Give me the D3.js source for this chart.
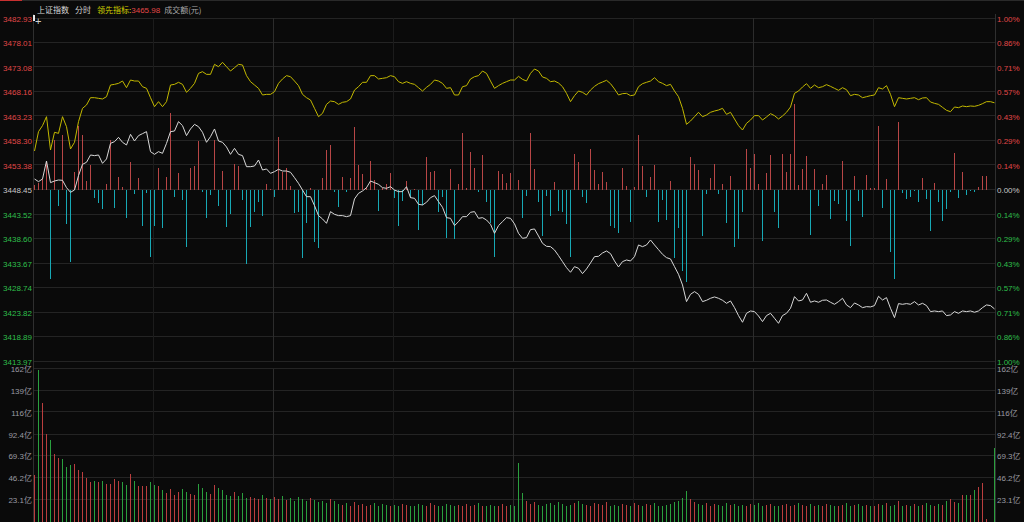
<!DOCTYPE html>
<html><head><meta charset="utf-8">
<script src="https://cdn.jsdelivr.net/npm/d3@7"></script>
<style>html,body{margin:0;padding:0;background:#0a0a0a;overflow:hidden}svg{display:block}</style>
</head><body><svg id="c" width="1024" height="522"></svg>
<script>
// ---------------- data ----------------
const preClose = 3448.45;
const priceTicks = [3482.93,3478.01,3473.08,3468.16,3463.23,3458.30,3453.38,3448.45,3443.52,3438.60,3433.67,3428.74,3423.82,3418.89,3413.97];
const volTicks = [23.1,46.2,69.3,92.4,116,139,162];
const leadLast = "3465.98";

// index price (white line), one value per minute, 09:30 .. 15:00
const price = [
3450.67,3450.13,3450.67,3454.28,3449.93,3450.26,3450.46,3450.40,3448.92,3447.99,
3448.45,3451.34,3453.61,3454.02,3455.49,3455.36,3455.49,3453.81,3454.69,3457.83,
3458.17,3459.04,3458.04,3457.50,3459.64,3458.30,3459.38,3459.78,3460.18,3456.16,
3455.62,3456.16,3455.82,3457.83,3460.18,3460.31,3462.19,3461.39,3459.38,3460.72,
3461.65,3461.18,3460.05,3458.04,3459.17,3460.72,3458.30,3458.04,3457.10,3455.62,
3456.83,3455.62,3455.36,3453.14,3453.14,3453.28,3454.48,3452.47,3452.68,3451.80,
3452.14,3452.61,3452.27,3452.27,3452.01,3450.93,3449.79,3448.45,3447.11,3447.11,
3445.31,3443.30,3442.63,3441.75,3444.10,3443.56,3443.30,3443.30,3443.09,3443.30,
3446.65,3447.78,3448.25,3448.92,3450.26,3449.93,3449.59,3448.92,3448.79,3449.12,
3448.45,3448.12,3448.12,3449.12,3446.91,3446.78,3445.57,3445.44,3445.98,3446.91,
3447.32,3446.11,3444.97,3442.89,3442.76,3441.29,3442.09,3443.09,3443.09,3443.97,
3444.10,3442.76,3442.89,3442.42,3441.55,3439.74,3441.29,3442.09,3442.89,3442.76,
3441.65,3439.74,3438.74,3438.87,3440.48,3440.62,3439.21,3437.73,3437.13,3437.06,
3436.39,3435.26,3434.05,3432.84,3431.91,3433.04,3432.71,3431.64,3432.58,3433.78,
3435.05,3435.12,3435.79,3436.19,3435.66,3434.18,3432.98,3434.05,3434.38,3434.18,
3435.05,3437.40,3437.06,3437.40,3438.40,3437.40,3436.46,3435.52,3434.85,3434.59,
3433.04,3431.50,3429.36,3426.01,3427.48,3428.02,3427.48,3426.01,3426.28,3426.68,
3426.95,3426.68,3426.28,3425.67,3426.14,3424.80,3423.20,3421.86,3423.66,3424.13,
3424.00,3423.13,3421.99,3423.20,3423.66,3422.66,3421.65,3423.20,3423.66,3424.67,
3427.01,3426.14,3426.34,3427.68,3425.88,3426.14,3425.88,3426.28,3426.34,3425.88,
3425.47,3426.01,3426.68,3425.34,3424.80,3425.74,3425.34,3424.80,3425.00,3424.94,
3425.21,3427.08,3426.34,3426.81,3424.67,3422.79,3425.61,3425.47,3425.61,3425.47,
3426.01,3425.34,3425.67,3425.21,3424.00,3424.13,3424.00,3424.13,3423.20,3423.33,
3424.00,3423.66,3424.13,3424.00,3424.13,3423.87,3424.13,3424.80,3425.34,3425.21,
3424.54];

// leading indicator (yellow line)
const lead = [
3456.29,3460.18,3461.39,3463.19,3456.49,3460.05,3459.84,3463.19,3461.18,3456.70,
3458.04,3462.19,3464.87,3465.54,3467.01,3467.01,3466.88,3466.75,3467.21,3469.56,
3469.69,3469.89,3470.36,3469.02,3470.56,3470.36,3470.36,3469.22,3468.89,3467.01,
3465.20,3466.21,3465.20,3466.21,3469.56,3469.69,3470.10,3469.69,3468.09,3468.89,
3469.89,3471.90,3472.24,3471.70,3471.70,3473.71,3473.24,3474.12,3473.24,3472.37,
3473.04,3473.71,3473.58,3471.44,3470.23,3469.56,3468.89,3467.55,3467.68,3467.68,
3468.22,3469.89,3470.77,3471.44,3471.23,3470.36,3469.43,3467.68,3467.01,3466.54,
3464.87,3463.19,3463.86,3465.67,3466.34,3466.21,3465.67,3466.08,3466.21,3466.75,
3468.55,3469.22,3470.10,3470.10,3471.44,3471.44,3470.77,3470.90,3471.03,3471.44,
3471.23,3470.23,3469.89,3470.23,3469.89,3469.69,3469.02,3468.35,3469.09,3469.69,
3470.56,3470.36,3469.89,3468.89,3469.02,3467.55,3467.55,3469.22,3469.43,3470.77,
3471.23,3471.44,3472.37,3471.90,3470.36,3468.89,3469.43,3469.89,3470.23,3470.56,
3470.56,3471.30,3470.70,3470.36,3471.90,3472.78,3472.37,3471.17,3470.90,3470.23,
3470.36,3469.96,3469.22,3467.88,3466.21,3467.42,3468.35,3468.09,3467.55,3468.55,
3469.29,3469.83,3470.16,3470.50,3469.83,3468.76,3467.55,3467.82,3467.88,3467.42,
3467.55,3469.22,3469.83,3470.10,3470.36,3471.03,3470.23,3469.89,3469.43,3469.69,
3468.35,3467.21,3464.87,3461.65,3462.32,3463.19,3464.07,3463.19,3463.53,3464.07,
3464.33,3464.53,3464.87,3463.66,3464.07,3462.73,3461.39,3460.51,3461.85,3462.52,
3463.40,3463.40,3462.52,3463.13,3463.80,3463.40,3462.73,3463.33,3464.07,3465.14,
3467.88,3468.35,3469.16,3469.83,3468.89,3469.56,3469.02,3469.22,3469.63,3469.29,
3468.89,3468.49,3469.02,3468.62,3467.42,3467.68,3467.55,3467.01,3467.21,3467.42,
3467.55,3469.02,3468.76,3469.43,3467.68,3465.20,3467.01,3466.88,3466.75,3466.88,
3467.01,3466.61,3466.95,3467.01,3466.14,3465.87,3465.67,3465.07,3464.47,3464.20,
3465.14,3465.00,3465.34,3465.20,3465.34,3465.27,3465.47,3465.81,3466.21,3466.21,
3465.98];

// buy/sell force bars (red up / cyan down), arbitrary units
const force = [
5,7,11,28,-89,50,-16,55,-34,-72,
18,64,55,9,25,-8,-13,-19,6,50,
-18,13,3,-28,28,-4,12,-36,-3,-67,
-36,22,-38,13,77,-7,17,-10,-57,22,
24,49,-2,-28,-5,50,-16,19,-37,-24,
26,24,-10,-74,-37,-22,-12,-26,6,1,
-7,53,18,22,4,-23,-22,-68,-33,2,
-52,-58,12,40,45,-2,-17,13,-2,12,
63,25,16,3,29,10,-21,2,6,17,
-8,-36,-11,9,-8,1,-40,-15,33,18,
19,-22,-7,-48,21,-49,6,57,2,38,
22,-2,35,-12,-33,-67,19,16,7,17,
0,10,-28,-6,57,21,-12,-46,-6,-26,
8,-21,-22,-34,-67,36,28,-7,-13,41,
20,6,18,8,-36,-38,-43,22,4,-32,
3,55,24,-7,13,25,-32,-10,-30,9,
-68,-38,-81,-92,33,26,20,-46,-4,12,
26,-4,6,-33,14,-57,-49,-22,41,22,
36,6,-51,17,35,-22,-38,36,18,36,
86,5,21,34,-45,21,-16,6,15,-29,
-11,-14,29,-31,-56,14,-11,-27,15,2,
2,64,-18,11,-62,-89,68,-3,-9,-7,
-1,-12,12,-9,-41,7,-12,-31,-19,-2,
37,-8,18,-5,-1,-2,3,14,14,0,
0];

// turnover per minute, 亿元
const volume = [
49,161,126,93,87,72,68,66,58.5,59.6,
60.7,54.3,52.2,46.5,41.8,43.6,41.8,42.6,40.1,40.1,
45,43.6,42.3,38.3,50.8,43.6,37.3,38,37.3,41.8,
38.3,38,33.7,30.1,34.8,27.7,31.2,35.1,31.2,29.5,
27.7,39.4,35.4,31.9,29.5,38.6,35.9,33,28,26.6,
31.6,27.4,30.1,25.5,25.9,24.8,24.2,28.7,24.5,23.7,
26,24,27,23,25,22,26,24,22,25,
23,21,22,20,24,22,19,18,20,17,
21,18,19,17,18,20,17,19,18,16,
18,17,19,18,16,17,19,18,17,20,
18,16,17,19,18,17,18,16,19,17,
18,20,17,16,18,17,16,19,17,18,
16,62,30,22,19,21,18,17,19,20,
18,21,19,17,18,20,22,19,18,17,
20,19,18,21,17,18,16,19,18,17,
20,18,17,19,18,20,17,16,18,19,
21,22,25,32,24,21,19,18,20,17,
19,18,17,20,18,19,17,18,16,19,
18,20,17,18,19,17,16,18,19,17,
18,20,18,17,19,16,18,17,19,18,
16,17,18,20,17,18,19,17,18,16,
17,19,18,20,17,18,22,17,18,16,
19,17,18,20,18,17,19,18,22,24,
21,20,28.7,27.7,28.7,33,37,40.8,3,0,
78.4];

// minute categories
const times = [];
[[9,30,120],[13,0,120]].forEach(([h,m,n],s)=>{
  for(let k=(s?1:0);k<=n;k++){const t=h*60+m+k;times.push(String(Math.floor(t/60)).padStart(2,'0')+':'+String(t%60).padStart(2,'0'));}
});

// ---------------- drawing ----------------
const W=1024,H=522;
const svg=d3.select('#c');
svg.append('rect').attr('width',W).attr('height',H).attr('fill','#0a0a0a');

const L=33.5, R=995.5;
const x=d3.scaleLinear().domain([0,times.length-1]).range([34,994]);
const y=d3.scaleLinear().domain([priceTicks[priceTicks.length-1],priceTicks[0]]).range([361.5,18.5]);
const yf=d3.scaleLinear().domain([-171.5,171.5]).range([361.5,18.5]);
const yv=d3.scaleLinear().domain([0,161.7]).range([521.5,369.5]);

const GRID='#242424';
// top decorations
svg.append('line').attr('x1',0).attr('x2',W).attr('y1',0.5).attr('y2',0.5).attr('stroke','#2a2a2a');
svg.append('line').attr('x1',0).attr('x2',22).attr('y1',0.5).attr('y2',0.5).attr('stroke','#c83030');

// horizontal grid main
svg.append('g').selectAll('line').data(priceTicks).join('line')
  .attr('x1',L).attr('x2',R)
  .attr('y1',d=>Math.round(y(d))-0.5).attr('y2',d=>Math.round(y(d))-0.5)
  .attr('stroke',GRID);
// horizontal grid volume
svg.append('g').selectAll('line').data(volTicks).join('line')
  .attr('x1',L).attr('x2',R)
  .attr('y1',d=>Math.round(yv(d))-0.5).attr('y2',d=>Math.round(yv(d))-0.5)
  .attr('stroke',GRID);
// vertical grid every 30 minutes
const vIdx=[30,60,90,120,150,180,210];
const vCol=d=>(d===120||d===180||d===60)?'#2c2c2c':'#1c1c1c';
svg.append('g').selectAll('line').data(vIdx).join('line')
  .attr('x1',d=>x(d)-0.5).attr('x2',d=>x(d)-0.5).attr('y1',18).attr('y2',361)
  .attr('stroke',vCol);
svg.append('g').selectAll('line').data(vIdx).join('line')
  .attr('x1',d=>x(d)-0.5).attr('x2',d=>x(d)-0.5).attr('y1',369).attr('y2',H)
  .attr('stroke',vCol);
// frame verticals
[L,R].forEach(v=>svg.append('line').attr('x1',v).attr('x2',v).attr('y1',14).attr('y2',H).attr('stroke','#2f2f2f'));

// force bars (1px, one per minute)
svg.append('g').attr('shape-rendering','crispEdges')
  .selectAll('rect').data(force.map((v,i)=>({v,i})).filter(d=>d.v!==0)).join('rect')
  .attr('x',d=>Math.floor(x(d.i))).attr('width',1)
  .attr('y',d=>Math.min(yf(0),yf(d.v))).attr('height',d=>Math.abs(yf(d.v)-yf(0)))
  .attr('fill',d=>d.v>0?'#b84646':'#17a9b5');

// lines
const line=d3.line().x((d,i)=>x(i)+0.5).y(d=>y(d));
svg.append('path').datum(price).attr('d',line).attr('fill','none').attr('stroke','#d8d8d8').attr('stroke-width',1);
svg.append('path').datum(lead).attr('d',line).attr('fill','none').attr('stroke','#c2b800').attr('stroke-width',1);

// volume bars
svg.append('g').attr('shape-rendering','crispEdges')
  .selectAll('rect').data(volume.map((v,i)=>({v,i})).filter(d=>d.v>0)).join('rect')
  .attr('x',d=>Math.floor(x(d.i))).attr('width',1)
  .attr('y',d=>yv(d.v)).attr('height',d=>yv(0)+1-yv(d.v))
  .attr('fill',d=>(d.i===0||price[d.i]>=price[d.i-1])?'#bb3e3e':'#2aa03e');

// axes
const FONT='"Liberation Sans", Arial, sans-serif';
const colorOf=d=>Math.abs(d-preClose)<0.005?'#c8c8c8':(d>preClose?'#e04848':'#2fbf4a');
const axL=svg.append('g').attr('transform','translate(33,0)')
  .call(d3.axisLeft(y).tickValues(priceTicks).tickSize(0).tickPadding(1).tickFormat(d3.format('.2f')));
const axR=svg.append('g').attr('transform','translate(996,0)')
  .call(d3.axisRight(y).tickValues(priceTicks).tickSize(0).tickPadding(1)
    .tickFormat(d=>d3.format('.2f')(Math.abs(d-preClose)/preClose*100)+'%'));
[axL,axR].forEach(a=>{
  a.select('.domain').remove();
  a.selectAll('text').attr('font-family',FONT).attr('font-size',8).attr('fill',colorOf);
});
const vL=svg.append('g').attr('transform','translate(33,0)')
  .call(d3.axisLeft(yv).tickValues(volTicks).tickSize(0).tickPadding(1).tickFormat(d=>d+'亿'));
const vR=svg.append('g').attr('transform','translate(996,0)')
  .call(d3.axisRight(yv).tickValues(volTicks).tickSize(0).tickPadding(1).tickFormat(d=>d+'亿'));
[vL,vR].forEach(a=>{
  a.select('.domain').remove();
  a.selectAll('text').attr('font-family',FONT+', "Noto Sans CJK SC"').attr('font-size',8).attr('fill','#9a9aa2');
});

// header
const hdr=svg.append('text').attr('x',37).attr('y',12.5).attr('font-size',8)
  .attr('font-family','"Noto Sans CJK SC", sans-serif');
hdr.append('tspan').text('上证指数').attr('fill','#d8d8d8');
hdr.append('tspan').text('分时').attr('dx',6).attr('fill','#cfcfcf');
hdr.append('tspan').text('领先指标:').attr('dx',6).attr('fill','#d2d000');
hdr.append('tspan').text(leadLast).attr('fill','#e04848').attr('font-family',FONT);
hdr.append('tspan').text('成交额(元)').attr('dx',4).attr('fill','#a8a8a8');

// cursor marks
svg.append('rect').attr('x',33).attr('y',15).attr('width',2).attr('height',6).attr('fill','#e8e8e8');
svg.append('text').attr('x',35).attr('y',25).attr('font-size',11).attr('fill','#cfcfcf').attr('font-family',FONT).text('+');
</script></body></html>
